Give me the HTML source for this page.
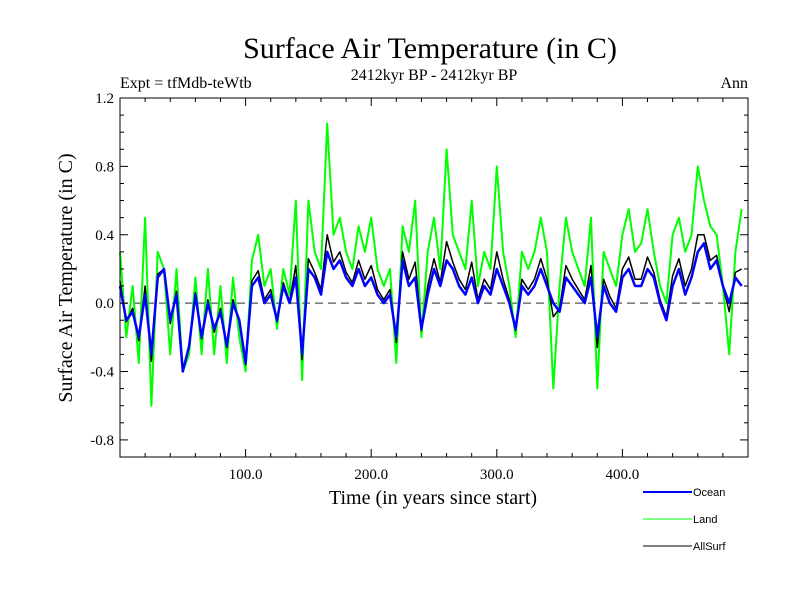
<!DOCTYPE html>
<html><head><meta charset="utf-8"><style>
body{margin:0;background:#fff;width:800px;height:600px;overflow:hidden}
</style></head><body>
<svg width="800" height="600" xmlns="http://www.w3.org/2000/svg">
<text x="430" y="58" text-anchor="middle" font-family="Liberation Serif, serif" font-size="30">Surface Air Temperature (in C)</text>
<text x="434" y="80" text-anchor="middle" font-family="Liberation Serif, serif" font-size="16">2412kyr BP - 2412kyr BP</text>
<text x="120" y="88" font-family="Liberation Serif, serif" font-size="16">Expt = tfMdb-teWtb</text>
<text x="748" y="88" text-anchor="end" font-family="Liberation Serif, serif" font-size="16">Ann</text>
<g id="plot"></g>
<text x="72" y="278" text-anchor="middle" transform="rotate(-90 72 278)" font-family="Liberation Serif, serif" font-size="20">Surface Air Temperature (in C)</text>
<text x="433" y="504" text-anchor="middle" font-family="Liberation Serif, serif" font-size="20">Time (in years since start)</text>
<g font-family="Liberation Sans, sans-serif" font-size="11">
<g><line x1="643" y1="492" x2="692" y2="492" stroke="#0000ff" stroke-width="2"/><text x="693" y="496">Ocean</text></g>
<g><line x1="643" y1="519" x2="692" y2="519" stroke="#00ff00" stroke-width="1"/><text x="693" y="523">Land</text></g>
<g><line x1="643" y1="546" x2="692" y2="546" stroke="#000" stroke-width="1"/><text x="693" y="550">AllSurf</text></g>
</g>
</svg>
<script>
const years = [];
for (let i = 0; i < 100; i++) years.push(i * 5);
const ocean = [0.1,-0.1,-0.05,-0.2,0.05,-0.3,0.15,0.2,-0.1,0.05,-0.4,-0.25,0.05,-0.2,0.0,-0.15,-0.05,-0.25,0.0,-0.1,
-0.35,0.1,0.15,0.0,0.05,-0.1,0.1,0.0,0.15,-0.3,0.2,0.15,0.05,0.3,0.2,0.25,0.15,0.1,0.2,0.1,
0.15,0.05,0.0,0.05,-0.2,0.25,0.1,0.15,-0.15,0.05,0.2,0.1,0.25,0.2,0.1,0.05,0.15,0.0,0.1,0.05,
0.2,0.1,0.0,-0.15,0.1,0.05,0.1,0.2,0.1,0.0,-0.05,0.15,0.1,0.05,0.0,0.15,-0.2,0.1,0.0,-0.05,
0.15,0.2,0.1,0.1,0.2,0.15,0.0,-0.1,0.1,0.2,0.05,0.15,0.3,0.35,0.2,0.25,0.1,0.0,0.15,0.1];
const land = [0.3,-0.2,0.1,-0.35,0.5,-0.6,0.3,0.2,-0.3,0.2,-0.4,-0.3,0.15,-0.3,0.2,-0.3,0.1,-0.35,0.15,-0.2,
-0.4,0.25,0.4,0.1,0.2,-0.15,0.2,0.05,0.6,-0.45,0.6,0.3,0.2,1.05,0.4,0.5,0.3,0.2,0.45,0.3,
0.5,0.2,0.1,0.2,-0.35,0.45,0.3,0.6,-0.2,0.3,0.5,0.2,0.9,0.4,0.3,0.2,0.6,0.1,0.3,0.2,
0.8,0.3,0.1,-0.2,0.3,0.2,0.3,0.5,0.3,-0.5,0.1,0.5,0.3,0.2,0.1,0.5,-0.5,0.3,0.2,0.1,
0.4,0.55,0.3,0.35,0.55,0.3,0.1,0.0,0.4,0.5,0.3,0.4,0.8,0.6,0.45,0.4,0.1,-0.3,0.3,0.55];
const allsurf = [0.13,-0.11,-0.03,-0.22,0.1,-0.34,0.17,0.2,-0.12,0.07,-0.4,-0.26,0.06,-0.21,0.02,-0.17,-0.03,-0.26,0.02,-0.11,
-0.36,0.13,0.19,0.02,0.08,-0.11,0.12,0.01,0.22,-0.33,0.26,0.18,0.08,0.4,0.24,0.3,0.18,0.12,0.25,0.14,
0.22,0.08,0.02,0.08,-0.23,0.3,0.14,0.24,-0.16,0.1,0.26,0.12,0.36,0.24,0.14,0.08,0.24,0.02,0.14,0.08,
0.3,0.14,0.02,-0.16,0.14,0.08,0.14,0.26,0.14,-0.08,-0.03,0.22,0.14,0.08,0.02,0.22,-0.26,0.14,0.04,-0.03,
0.2,0.27,0.14,0.14,0.27,0.18,0.02,-0.08,0.16,0.26,0.1,0.2,0.4,0.4,0.25,0.28,0.1,-0.05,0.18,0.2];
const yTicks = [-0.8,-0.4,0.0,0.4,0.8,1.2];
const yTickLabels = ["-0.8","-0.4","0.0","0.4","0.8","1.2"];
const xTicks = [100,200,300,400];
const xTickLabels = ["100.0","200.0","300.0","400.0"];

const L=120,R=748,T=98,B=457, y0=-0.9,y1=1.2, x0=0,x1=500;
const sx=v=>L+(v-x0)/(x1-x0)*(R-L);
const sy=v=>B-(v-y0)/(y1-y0)*(B-T);
const NS='http://www.w3.org/2000/svg';
const g=document.getElementById('plot');
function mk(tag,attrs){const e=document.createElementNS(NS,tag);for(const k in attrs)e.setAttribute(k,attrs[k]);g.appendChild(e);return e;}
const zero=mk('line',{x1:L,x2:R,y1:sy(0),y2:sy(0),stroke:'#555','stroke-width':1.2,'stroke-dasharray':'8,5'});


function series(vals,color,w,name){
  const d=vals.map((v,i)=>(i?'L':'M')+sx(years[i]).toFixed(1)+','+sy(v).toFixed(1)).join('');
  const p=mk('path',{d:d,fill:'none',stroke:color,'stroke-width':w,'stroke-linejoin':'round'});
  
  
}
series(land,'#00ff00',2,'land-series');
series(allsurf,'#000000',1.5,'allsurf-series');
series(ocean,'#0000ff',2.5,'ocean-series');
const frame=mk('rect',{x:L,y:T,width:R-L,height:B-T,fill:'none',stroke:'#000','stroke-width':1});


for(let k=-9;k<=12;k++){const v=k/10,y=sy(v),len=(k%4===0)?8:4;
  mk('line',{x1:L,x2:L+len,y1:y,y2:y,stroke:'#000'});mk('line',{x1:R,x2:R-len,y1:y,y2:y,stroke:'#000'});}
for(let v=20;v<500;v+=20){const x=sx(v),len=(v%100===0)?8:4;
  mk('line',{x1:x,x2:x,y1:B,y2:B-len,stroke:'#000'});mk('line',{x1:x,x2:x,y1:T,y2:T+len,stroke:'#000'});}
yTicks.forEach((v,i)=>{const t=mk('text',{x:L-6,y:sy(v)+5,'text-anchor':'end','font-family':'Liberation Serif, serif','font-size':15});t.textContent=yTickLabels[i];
  
  });
xTicks.forEach((v,i)=>{const t=mk('text',{x:sx(v),y:B+22,'text-anchor':'middle','font-family':'Liberation Serif, serif','font-size':15});t.textContent=xTickLabels[i];
  
  });
</script>
</body></html>
